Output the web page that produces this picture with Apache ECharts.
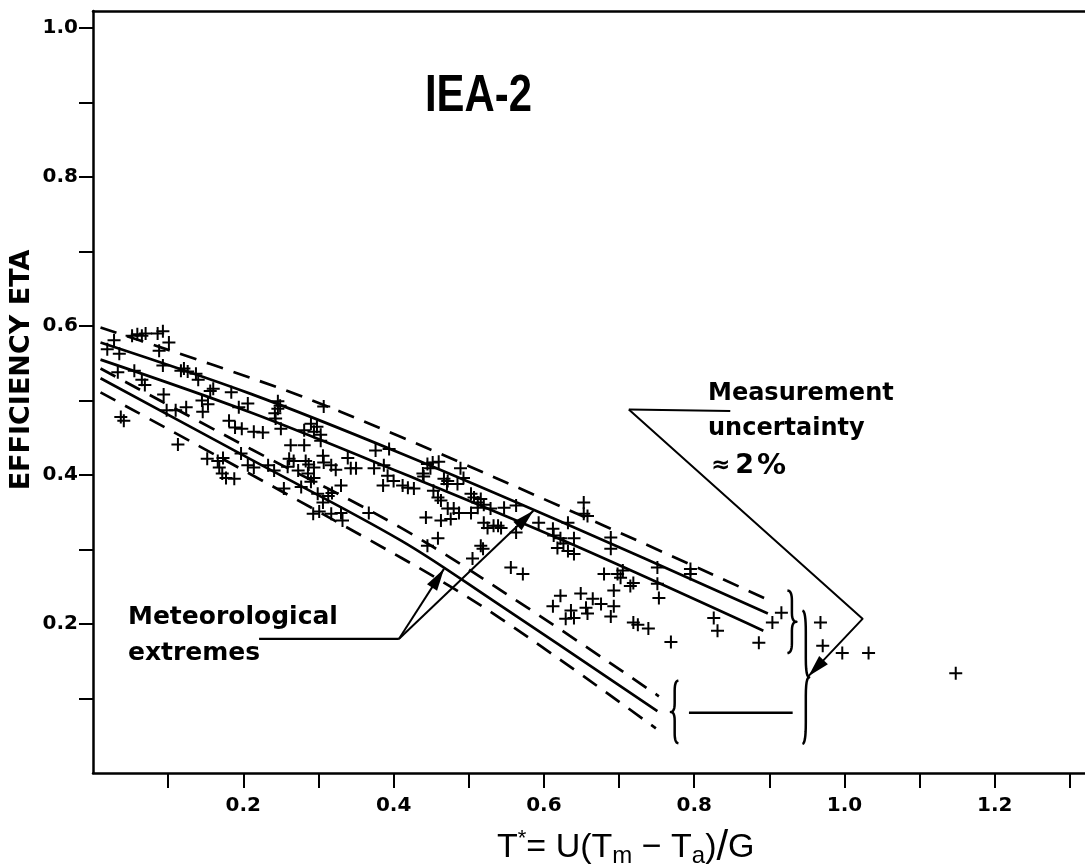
<!DOCTYPE html>
<html>
<head>
<meta charset="utf-8">
<script src="https://cdn.jsdelivr.net/npm/echarts@6/dist/echarts.min.js"></script>
<style>
html,body{margin:0;padding:0;background:#fff;}
#c{width:1085px;height:867px;}
</style>
</head>
<body>
<div id="c"></div>
<script>
// ---- tick values / labels ----
const xTickValues = [0.1,0.2,0.3,0.4,0.5,0.6,0.7,0.8,0.9,1.0,1.1,1.2,1.3];
const xLabelValues = [0.2,0.4,0.6,0.8,1.0,1.2];
const yTickValues = [0.1,0.2,0.3,0.4,0.5,0.6,0.7,0.8,0.9,1.0];
const yLabelValues = [0.2,0.4,0.6,0.8,1.0];

// ---- measured points (T*, eta) ----
const measuredPoints = [
[0.019,0.569],[0.028,0.581],[0.035,0.563],[0.033,0.538],[0.037,0.478],[0.041,0.473],
[0.052,0.587],[0.059,0.589],[0.065,0.587],[0.070,0.590],[0.055,0.540],[0.065,0.528],[0.069,0.521],
[0.086,0.590],[0.093,0.593],[0.088,0.567],[0.093,0.547],
[0.101,0.578],[0.094,0.508],[0.098,0.487],[0.110,0.487],[0.113,0.441],
[0.117,0.540],[0.121,0.543],[0.126,0.539],[0.137,0.536],[0.140,0.528],[0.124,0.491],
[0.145,0.500],[0.153,0.495],[0.146,0.485],[0.156,0.513],[0.160,0.516],
[0.152,0.422],[0.166,0.419],[0.173,0.423],[0.168,0.410],[0.172,0.402],[0.177,0.396],[0.188,0.395],
[0.181,0.473],[0.189,0.464],[0.198,0.462],[0.184,0.511],
[0.206,0.496],[0.194,0.491],[0.197,0.429],[0.206,0.413],[0.214,0.410],[0.214,0.458],[0.226,0.457],
[0.233,0.413],[0.241,0.406],[0.246,0.499],[0.246,0.489],[0.242,0.483],[0.243,0.476],[0.249,0.493],
[0.250,0.462],[0.254,0.382],[0.263,0.440],[0.261,0.422],[0.267,0.419],[0.259,0.411],[0.273,0.406],
[0.277,0.384],[0.281,0.440],[0.283,0.419],[0.287,0.414],
[0.294,0.410],[0.286,0.402],[0.294,0.396],[0.281,0.460],[0.290,0.469],[0.294,0.458],[0.303,0.454],
[0.303,0.446],[0.298,0.465],[0.307,0.492],[0.306,0.426],[0.307,0.417],[0.317,0.413],[0.323,0.407],
[0.299,0.375],[0.306,0.363],[0.313,0.372],[0.318,0.376],[0.293,0.348],[0.301,0.351],[0.317,0.348],
[0.330,0.349],[0.332,0.339],[0.290,0.391],[0.339,0.423],[0.343,0.409],[0.350,0.409],[0.330,0.386],
[0.367,0.349],[0.374,0.409],[0.376,0.433],[0.394,0.435],[0.387,0.413],[0.392,0.399],[0.400,0.392],
[0.386,0.386],[0.412,0.386],[0.419,0.383],[0.427,0.382],[0.439,0.402],[0.440,0.398],[0.452,0.417],
[0.460,0.418],[0.443,0.343],[0.453,0.379],[0.459,0.370],[0.463,0.366],[0.467,0.395],[0.471,0.388],
[0.472,0.392],[0.463,0.339],[0.476,0.341],[0.472,0.355],[0.445,0.415],[0.449,0.409],[0.459,0.315],
[0.445,0.305],
[0.489,0.409],[0.493,0.396],[0.485,0.388],[0.503,0.375],[0.507,0.370],[0.516,0.368],[0.512,0.363],
[0.520,0.360],[0.503,0.349],[0.512,0.356],[0.520,0.336],[0.529,0.355],[0.525,0.329],[0.539,0.332],
[0.480,0.355],[0.487,0.349],[0.547,0.356],[0.563,0.359],[0.533,0.332],[0.543,0.329],[0.563,0.323],
[0.516,0.305],[0.519,0.301],[0.505,0.288],[0.556,0.276],[0.572,0.267],
[0.593,0.336],[0.612,0.328],[0.613,0.319],[0.622,0.315],[0.626,0.308],[0.618,0.302],[0.632,0.298],
[0.640,0.294],[0.640,0.315],[0.632,0.336],[0.653,0.363],[0.653,0.348],[0.658,0.345],
[0.689,0.316],[0.689,0.301],[0.680,0.267],[0.698,0.267],[0.702,0.262],[0.705,0.272],[0.693,0.245],
[0.715,0.251],[0.719,0.255],[0.751,0.276],[0.751,0.254],[0.753,0.235],
[0.622,0.238],[0.649,0.241],[0.665,0.234],[0.676,0.227],[0.612,0.224],[0.636,0.218],[0.640,0.208],
[0.656,0.222],[0.658,0.214],[0.629,0.207],[0.693,0.224],[0.689,0.210],
[0.719,0.202],[0.725,0.199],[0.739,0.194],[0.795,0.274],[0.795,0.267],[0.769,0.176],
[0.826,0.208],[0.831,0.191],[0.886,0.175],[0.904,0.202],[0.916,0.215],[0.968,0.202],[0.971,0.171],
[0.997,0.161],[1.032,0.161],[1.148,0.134]
];

// ---- curves (meteorological extremes and uncertainty bands) ----
const upperDashedLine = [[0.01,0.598],[0.25,0.516],[0.41,0.451],[0.68,0.332],[0.906,0.229]];
const upperSolidLine  = [[0.01,0.578],[0.21,0.509],[0.41,0.429],[0.626,0.336],[0.898,0.214]];
const middleSolidLine = [[0.01,0.555],[0.21,0.484],[0.41,0.403],[0.626,0.312],[0.892,0.191]];
const lowerUpperDashed = [[0.01,0.543],[0.21,0.435],[0.41,0.329],[0.578,0.222],[0.753,0.103]];
const lowerSolidLine  = [[0.01,0.530],[0.21,0.421],[0.41,0.312],[0.533,0.231],[0.751,0.083]];
const lowerLowerDashed = [[0.01,0.511],[0.41,0.289],[0.543,0.207],[0.749,0.060]];

// ---- annotation anchors (data coordinates) ----
const meteoLeader = [[0.221,0.180],[0.407,0.180]];
const meteoArrowTips = [[0.467,0.274],[0.586,0.352]];
const measLeader = [[0.713,0.488],[0.848,0.486]];
const measCorner = [1.024,0.207];
const measArrowTip = [0.952,0.130];
const braces = [
  {xEnd:0.924, xCusp:0.936, yTop:0.245, yBot:0.161},
  {xEnd:0.944, xCusp:0.953, yTop:0.218, yBot:0.039},
  {xEnd:0.779, xCusp:0.769, yTop:0.124, yBot:0.040}
];
const braceConnector = [[0.793,0.081],[0.931,0.081]];

const chart = echarts.init(document.getElementById('c'));
const near = (v, arr) => arr.some(a => Math.abs(a - v) < 1e-6);
const labelFont = {color:'#000', fontFamily:'DejaVu Sans', fontWeight:'bold', fontSize:20};
const plusSymbol = 'path://M5.5,0H7.5V5.5H13V7.5H7.5V13H5.5V7.5H0V5.5H5.5Z';

function lineSeries(data, dashed){
  return {type:'line', data:data, smooth:0.35, showSymbol:false, symbol:'none', silent:true, z:3,
    lineStyle:{color:'#000', width:2.7, type: dashed ? [17,11] : 'solid'}};
}

chart.setOption({
  animation:false,
  backgroundColor:'#fff',
  grid:{left:93, right:0, top:11, bottom:94},
  xAxis:[{
    type:'value', min:0, max:1.32, interval:0.1,
    axisLine:{show:true, onZero:false, lineStyle:{color:'#000', width:2.5}},
    axisTick:{show:true, length:15, customValues:xTickValues, lineStyle:{color:'#000', width:2}},
    axisLabel:Object.assign({customValues:xLabelValues, margin:23,
      formatter:v => near(v, xLabelValues) ? v.toFixed(1) : ''}, labelFont),
    splitLine:{show:false}
  },{
    type:'value', position:'top', min:0, max:1.32,
    axisLine:{show:true, onZero:false, lineStyle:{color:'#000', width:2.5}},
    axisTick:{show:false}, axisLabel:{show:false}, splitLine:{show:false}
  }],
  yAxis:{
    type:'value', min:0, max:1.023, interval:0.1,
    axisLine:{show:true, onZero:false, lineStyle:{color:'#000', width:2.5}},
    axisTick:{show:true, length:14, customValues:yTickValues, lineStyle:{color:'#000', width:2}},
    axisLabel:Object.assign({customValues:yLabelValues, margin:15,
      formatter:v => near(v, yLabelValues) ? v.toFixed(1) : ''}, labelFont),
    splitLine:{show:false}
  },
  series:[
    {type:'scatter', data:measuredPoints, symbol:plusSymbol, symbolSize:13, silent:true, z:4,
      itemStyle:{color:'#000', opacity:1}},
    lineSeries(upperDashedLine, true),
    lineSeries(upperSolidLine, false),
    lineSeries(middleSolidLine, false),
    lineSeries(lowerUpperDashed, true),
    lineSeries(lowerSolidLine, false),
    lineSeries(lowerLowerDashed, true)
  ]
});

const P = p => chart.convertToPixel({xAxisIndex:0, yAxisIndex:0}, p);

function arrowHead(from, to, len, half){
  const dx = to[0]-from[0], dy = to[1]-from[1];
  const d = Math.hypot(dx, dy); const ux = dx/d, uy = dy/d;
  const bx = to[0]-ux*len, by = to[1]-uy*len;
  return {type:'polygon', silent:true, z:10, shape:{points:[to,[bx-uy*half, by+ux*half],[bx+uy*half, by-ux*half]]}, style:{fill:'#000'}};
}
function quad(p0, c, p1, n, out){
  for (let i = (out.length ? 1 : 0); i <= n; i++){
    const t = i/n, s = 1-t;
    out.push([s*s*p0[0]+2*s*t*c[0]+t*t*p1[0], s*s*p0[1]+2*s*t*c[1]+t*t*p1[1]]);
  }
}
function bracePoints(b){
  const a = P([b.xEnd, b.yTop]), c = P([b.xCusp, b.yBot]);
  const xe = a[0], xc = c[0], yt = a[1], yb = c[1];
  const xm = (xe+xc)/2, ym = (yt+yb)/2, h = yb-yt;
  const pts = [];
  quad([xe,yt],[xm,yt],[xm,yt+0.16*h],8,pts);
  pts.push([xm, ym-0.14*h]);
  quad([xm,ym-0.14*h],[xm,ym],[xc,ym],6,pts);
  quad([xc,ym],[xm,ym],[xm,ym+0.14*h],6,pts);
  pts.push([xm, yb-0.16*h]);
  quad([xm,yb-0.16*h],[xm,yb],[xe,yb],8,pts);
  return pts;
}
function poly(points, w){
  return {type:'polyline', silent:true, z:10, shape:{points:points}, style:{stroke:'#000', lineWidth:w, fill:null, lineJoin:'round'}};
}
function txt(x, y, text, font, extra){
  return Object.assign({type:'text', x:x, y:y, silent:true, z:11,
    style:{text:text, font:font, fill:'#000', align:'left', verticalAlign:'middle', textAlign:'left', textVerticalAlign:'middle'}}, extra || {});
}

const g = [];
// texts
g.push(txt(425, 97, 'IEA-2', 'bold 51px "Liberation Sans"', {scaleX:0.82}));
g.push(txt(128, 617, 'Meteorological', 'bold 25px "DejaVu Sans"'));
g.push(txt(128, 653, 'extremes', 'bold 25px "DejaVu Sans"'));
g.push(txt(708, 394, 'Measurement', 'bold 24px "DejaVu Sans"'));
g.push(txt(708, 429, 'uncertainty', 'bold 24px "DejaVu Sans"'));
g.push({type:'text', x:711, y:466, silent:true, z:11,
  style:{text:'{s|≈}{n|2}{p|%}', fill:'#000', align:'left', verticalAlign:'middle', textAlign:'left', textVerticalAlign:'middle',
    rich:{
      s:{fontFamily:'DejaVu Sans', fontWeight:'bold', fontSize:23, lineHeight:32, fill:'#000'},
      n:{fontFamily:'DejaVu Sans', fontWeight:'bold', fontSize:27, lineHeight:32, padding:[0,0,0,5], fill:'#000'},
      p:{fontFamily:'DejaVu Sans', fontWeight:'bold', fontSize:29, lineHeight:32, padding:[0,0,0,3], fill:'#000'}
    }}});
g.push({type:'text', x:22, y:370, rotation:Math.PI/2, silent:true, z:11,
  style:{text:'EFFICIENCY ETA', font:'bold 27px "DejaVu Sans"', fill:'#000', align:'center', verticalAlign:'middle', textAlign:'center', textVerticalAlign:'middle'}});
g.push({type:'text', x:497, y:848, silent:true, z:11,
  style:{text:'{m|T}{sup|*}{m|= U(T}{sub|m}{m| − T}{sub|a}{m|)}{sl|/}{m|G}',
    fill:'#000', align:'left', verticalAlign:'middle', textAlign:'left', textVerticalAlign:'middle',
    rich:{
      m:{fontFamily:'Liberation Sans', fontSize:34, lineHeight:40, fill:'#000'},
      sup:{fontFamily:'Liberation Sans', fontSize:22, lineHeight:20, verticalAlign:'top', fill:'#000'},
      sub:{fontFamily:'Liberation Sans', fontSize:24, lineHeight:28, verticalAlign:'bottom', fill:'#000'},
      sl:{fontFamily:'Liberation Sans', fontSize:42, lineHeight:40, fill:'#000'}
    }}});

// meteorological extremes leader + arrows
const mStart = P(meteoLeader[0]), mEnd = P(meteoLeader[1]);
g.push(poly([mStart, mEnd], 2.2));
meteoArrowTips.forEach(t => {
  const tp = P(t);
  g.push(poly([mEnd, tp], 2));
  g.push(arrowHead(mEnd, tp, 22, 6));
});
// measurement uncertainty leader + V + arrow
const u0 = P(measLeader[0]), u1 = P(measLeader[1]);
g.push(poly([u0, u1], 2.2));
const corner = P(measCorner), mtip = P(measArrowTip);
g.push(poly([u0, corner, mtip], 2));
g.push(arrowHead(corner, mtip, 22, 6));
// braces
braces.forEach(b => g.push(poly(bracePoints(b), 2.5)));
g.push(poly([P(braceConnector[0]), P(braceConnector[1])], 2.5));

chart.setOption({graphic:{elements:g}});
</script>
</body>
</html>
